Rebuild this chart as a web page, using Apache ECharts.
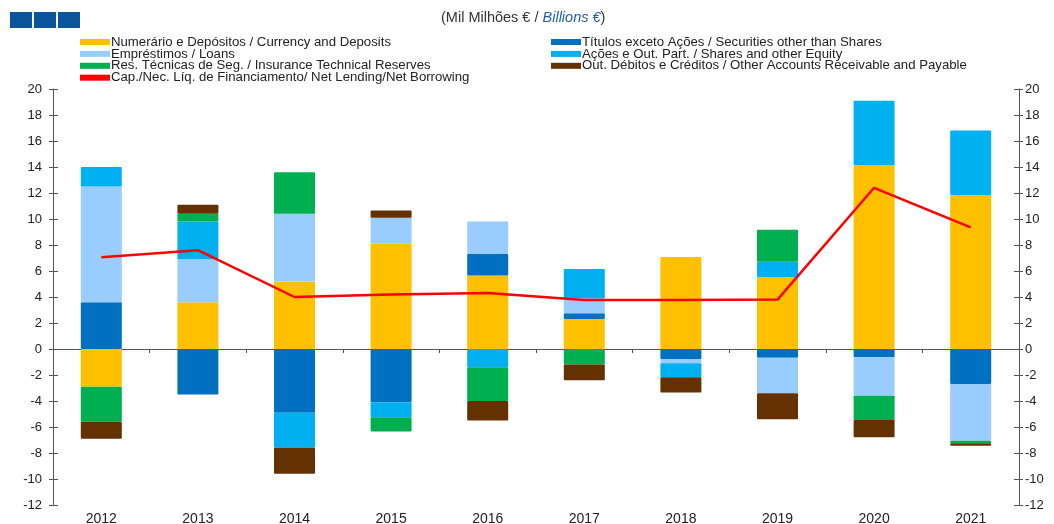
<!DOCTYPE html>
<html lang="pt">
<head>
    <meta charset="UTF-8">
    <title>Operações financeiras</title>
    <script src="https://cdn.jsdelivr.net/npm/echarts@6/dist/echarts.min.js"></script>
    <style>
        html, body { margin: 0; padding: 0; background: #fff; }
    </style>
</head>
<body>
<div id="main" style="width: 1054px;height: 524px;"></div>
<script>
    // dados (mil milhões de euros)
    var anos = ['2012', '2013', '2014', '2015', '2016', '2017', '2018', '2019', '2020', '2021']
    var numerario = [-2.9, 3.6, 5.2, 8.1, 5.65, 2.3, 7.08, 5.54, 14.15, 11.85]
    var titulos = [3.6, -3.5, -4.9, -4.1, 1.65, 0.45, -0.77, -0.67, -0.64, -2.7]
    var emprestimos = [8.9, 3.3, 5.2, 2.0, 2.5, 1.15, -0.33, -2.74, -2.96, -4.35]
    var acoes = [1.5, 2.9, -2.7, -1.15, -1.4, 2.25, -1.08, 1.18, 4.95, 4.95]
    var seguros = [-2.7, 0.6, 3.2, -1.1, -2.6, -1.2, 0, 2.46, -1.86, -0.2]
    var outros = [-1.3, 0.7, -2.0, 0.55, -1.5, -1.2, -1.17, -2.0, -1.33, -0.2]
    var capNec = [7.05, 7.6, 4.0, 4.2, 4.3, 3.77, 3.77, 3.8, 12.4, 9.36]

    var nomes = [
        'Numerário e Depósitos / Currency and Deposits',
        'Títulos exceto Ações / Securities other than Shares',
        'Empréstimos / Loans',
        'Ações e Out. Part. / Shares and other Equity',
        'Res. Técnicas de Seg. / Insurance Technical Reserves',
        'Out. Débitos e Créditos / Other Accounts Receivable and Payable',
        'Cap./Nec. Líq. de Financiamento/ Net Lending/Net Borrowing'
    ]
    var cores = ['#FFC000', '#0070C0', '#99CCFF', '#00B0F0', '#00B050', '#633200', '#FF0000']
    var fonte = '"Liberation Sans", Arial, sans-serif'

    var mChart = echarts.init(document.getElementById('main'))

    var barras = [numerario, titulos, emprestimos, acoes, seguros, outros]
    var series = barras.map(function (d, i) {
        return {
            name: nomes[i],
            type: 'bar',
            stack: 'total',
            barWidth: 41,
            itemStyle: { color: cores[i], borderRadius: 1 },
            data: d
        }
    })
    series.push({
        name: nomes[6],
        type: 'line',
        showSymbol: false,
        symbol: 'none',
        lineStyle: { color: cores[6], width: 2.5 },
        itemStyle: { color: cores[6] },
        data: capNec
    })

    // eixo de valores (esquerda e direita), com marcas dos dois lados
    var eixoY = {
        type: 'value',
        min: -12,
        max: 20,
        interval: 2,
        splitLine: { show: false },
        axisLine: { show: true, lineStyle: { color: '#555' } },
        axisTick: { show: true, length: 4, lineStyle: { color: '#555' } },
        axisLabel: { color: '#222', fontSize: 13, fontFamily: fonte }
    }
    var marcasDentro = {
        type: 'value',
        min: -12,
        max: 20,
        interval: 2,
        splitLine: { show: false },
        axisLine: { show: false },
        axisTick: { show: true, inside: true, length: 5, lineStyle: { color: '#555' } },
        axisLabel: { show: false }
    }

    var legenda = {
        orient: 'vertical',
        itemWidth: 30,
        itemHeight: 6,
        itemGap: -1.1,
        icon: 'rect',
        textStyle: { fontSize: 13.2, color: '#222', fontFamily: fonte, padding: [0, 0, 0, -4] },
        padding: 0
    }

    var option = {
        animation: false,
        textStyle: { fontFamily: fonte },
        graphic: [
            { type: 'rect', left: 10, top: 12, shape: { width: 22, height: 16 }, style: { fill: '#0B559C' } },
            { type: 'rect', left: 34, top: 12, shape: { width: 22, height: 16 }, style: { fill: '#0B559C' } },
            { type: 'rect', left: 58, top: 12, shape: { width: 22, height: 16 }, style: { fill: '#0B559C' } },
            {
                type: 'text', left: 441, top: 10,
                style: {
                    text: '(Mil Milhões € / {b|Billions €})',
                    font: '14.5px ' + fonte,
                    fill: '#333',
                    rich: { b: { fontStyle: 'italic', fill: '#1F5FA8', color: '#1F5FA8', fontSize: 14.5, fontFamily: fonte } }
                }
            }
        ],
        legend: [
            Object.assign({}, legenda, { left: 80, top: 35.5, data: [nomes[0], nomes[2], nomes[4], nomes[6]] }),
            Object.assign({}, legenda, { left: 551, top: 35.5, data: [nomes[1], nomes[3], nomes[5]] })
        ],
        grid: { left: 53, right: 35, top: 89, bottom: 19, outerBoundsMode: 'none' },
        xAxis: [
            {
                type: 'category',
                data: anos,
                axisLine: { show: false },
                axisTick: { show: false },
                axisLabel: { color: '#222', fontSize: 14, margin: 7, fontFamily: fonte }
            },
            {
                type: 'category',
                data: anos,
                position: 'bottom',
                axisLine: { show: true, onZero: true, lineStyle: { color: '#555' } },
                axisTick: { show: true, length: 4, lineStyle: { color: '#555' } },
                axisLabel: { show: false }
            }
        ],
        yAxis: [
            Object.assign({}, eixoY, { position: 'left', axisLabel: Object.assign({}, eixoY.axisLabel, { margin: 11 }) }),
            Object.assign({}, eixoY, { position: 'right', axisLabel: Object.assign({}, eixoY.axisLabel, { margin: 6 }) }),
            Object.assign({}, marcasDentro, { position: 'left' }),
            Object.assign({}, marcasDentro, { position: 'right' })
        ],
        series: series
    }
    mChart.setOption(option)
</script>
</body>
</html>
